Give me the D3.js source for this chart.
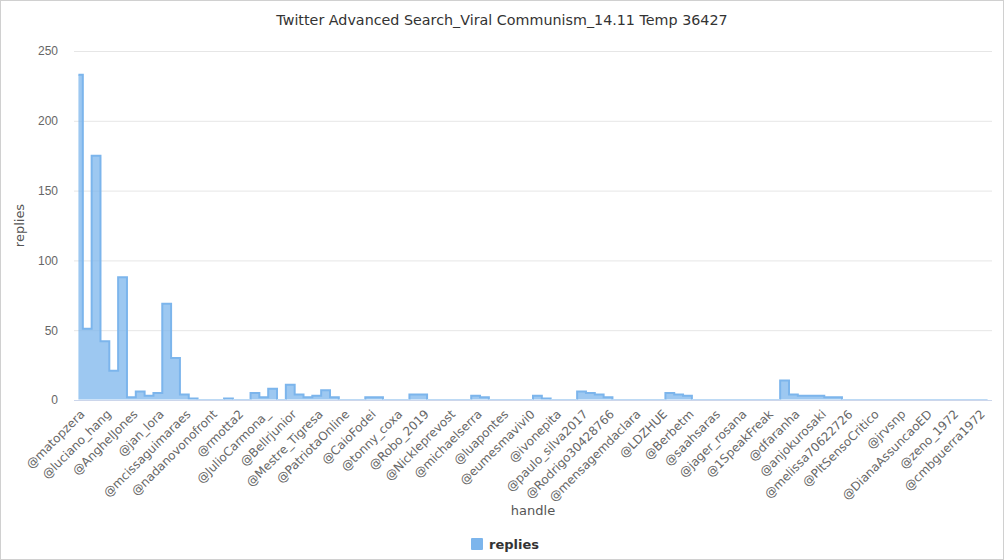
<!DOCTYPE html>
<html>
<head>
<meta charset="utf-8">
<script src="https://cdn.jsdelivr.net/npm/d3@7"></script>
<style>
  body { margin: 0; background: #fff; }
  svg { display: block; font-family: "Lucida Grande", "DejaVu Sans", sans-serif; }
</style>
</head>
<body>
<div id="chart"></div>
<script>
// every third handle is labelled on the axis
var handles = ["@matopzera", "@luciano_hang", "@AnghelJones", "@jan_lora", "@mcissaguimaraes",
  "@nadanovonofront", "@rmotta2", "@JulioCarmona_", "@Bellrjunior", "@Mestre_Tigresa",
  "@PatriotaOnline", "@CaioFodei", "@tonny_coxa", "@Robo_2019", "@Nickleprevost",
  "@michaelserra", "@luapontes", "@eumesmavivi0", "@ivonepita", "@paulo_silva2017",
  "@Rodrigo30428766", "@mensagemdaclara", "@LDZHUE", "@Berbetm", "@saahsaras",
  "@jager_rosana", "@1SpeakFreak", "@dfaranha", "@anjokurosaki", "@melissa70622726",
  "@PltSensoCritico", "@jrvsnp", "@DianaAssuncaoED", "@zeno_1972", "@cmbguerra1972"];

// replies per handle, in axis order
var replies = [233, 51, 175, 42, 21, 88, 2, 6, 3, 5,
  69, 30, 4, 1, 0, 0, 0, 1, 0, 0,
  5, 2, 8, 0, 11, 4, 2, 3, 7, 2,
  0, 0, 0, 2, 2, 0, 0, 0, 4, 4,
  0, 0, 0, 0, 0, 3, 2, 0, 0, 0,
  0, 0, 3, 1, 0, 0, 0, 6, 5, 4,
  2, 0, 0, 0, 0, 0, 0, 5, 4, 3,
  0, 0, 0, 0, 0, 0, 0, 0, 0, 0,
  14, 4, 3, 3, 3, 2, 2, 0, 0, 0,
  0, 0, 0, 0, 0, 0, 0, 0, 0, 0,
  0, 0, 0, 0];

var labelEvery = 3;
var yTicks = [0, 50, 100, 150, 200, 250];

var width = 1004, height = 560;
var plotLeft = 74, plotRight = 992, plotTop = 51, plotBottom = 400;
var color = "#7cb5ec";

var svg = d3.select("#chart").append("svg")
  .attr("width", width)
  .attr("height", height);

svg.append("rect")
  .attr("x", 0.5).attr("y", 0.5)
  .attr("width", width - 1).attr("height", height - 1)
  .attr("fill", "#fff")
  .attr("stroke", "#d0d0d0");

var x = d3.scaleLinear()
  .domain([-0.5, replies.length - 0.5])
  .range([plotLeft, plotRight]);

var y = d3.scaleLinear()
  .domain([0, 250])
  .range([plotBottom, plotTop]);

// title
svg.append("text")
  .attr("x", 502).attr("y", 25)
  .attr("text-anchor", "middle")
  .style("font-size", "14.3px")
  .style("fill", "#333")
  .text("Twitter Advanced Search_Viral Communism_14.11 Temp 36427");

// y grid + labels
var yAxis = svg.append("g")
  .attr("transform", "translate(" + plotLeft + ",0)")
  .call(d3.axisLeft(y).tickValues(yTicks).tickSize(-(plotRight - plotLeft)).tickPadding(16));
yAxis.select(".domain").remove();
yAxis.selectAll(".tick line").attr("stroke", "#e6e6e6");
yAxis.selectAll(".tick text")
  .style("font-size", "12px")
  .style("fill", "#666")
  .style("font-family", "inherit");

svg.append("text")
  .attr("transform", "translate(24," + ((plotTop + plotBottom) / 2) + ") rotate(-90)")
  .attr("text-anchor", "middle")
  .style("font-size", "13px")
  .style("fill", "#555")
  .text("replies");

// series
svg.append("clipPath").attr("id", "plotclip")
  .append("rect")
  .attr("x", plotLeft).attr("y", plotTop - 5)
  .attr("width", plotRight - plotLeft).attr("height", plotBottom - plotTop + 4.5);

var area = d3.area()
  .x(function(d, i) { return x(i); })
  .y0(y(0))
  .y1(function(d) { return y(d); })
  .curve(d3.curveStep);

var line = d3.line()
  .x(function(d, i) { return x(i); })
  .y(function(d) { return y(d); })
  .curve(d3.curveStep);

var series = svg.append("g").attr("clip-path", "url(#plotclip)");
series.append("path")
  .datum(replies)
  .attr("d", area)
  .attr("fill", color)
  .attr("fill-opacity", 0.75);
series.append("path")
  .datum(replies)
  .attr("d", line)
  .attr("fill", "none")
  .attr("stroke", color)
  .attr("stroke-width", 2);

// x axis
svg.append("line")
  .attr("x1", plotLeft).attr("x2", plotRight)
  .attr("y1", plotBottom + 0.5).attr("y2", plotBottom + 0.5)
  .attr("stroke", "#ccd6eb");

svg.append("g")
  .selectAll("text")
  .data(handles)
  .enter().append("text")
  .attr("transform", function(d, i) {
    return "translate(" + (x(i * labelEvery) + 4) + "," + (plotBottom + 12) + ") rotate(-45)";
  })
  .attr("text-anchor", "end")
  .attr("dy", "0.35em")
  .style("font-size", "12px")
  .style("fill", "#666")
  .text(function(d) { return d; });

svg.append("text")
  .attr("x", (plotLeft + plotRight) / 2).attr("y", 515)
  .attr("text-anchor", "middle")
  .style("font-size", "13px")
  .style("fill", "#555")
  .text("handle");

// legend
var legend = svg.append("g").attr("transform", "translate(471,538)");
legend.append("rect")
  .attr("width", 12).attr("height", 12)
  .attr("rx", 1)
  .attr("fill", color);
legend.append("text")
  .attr("x", 18).attr("y", 11)
  .style("font-size", "13px")
  .style("font-weight", "bold")
  .style("fill", "#333")
  .text("replies");
</script>
</body>
</html>
